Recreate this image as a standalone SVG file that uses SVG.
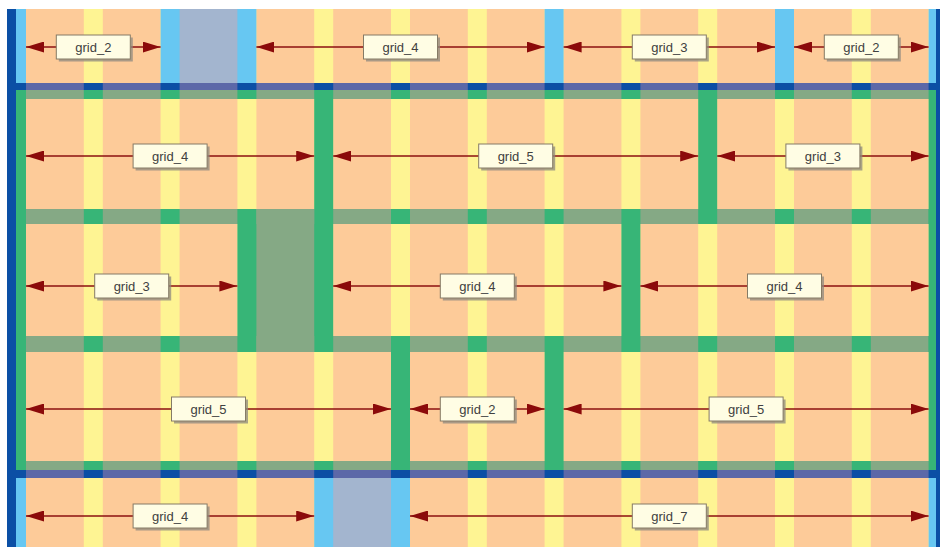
<svg xmlns="http://www.w3.org/2000/svg" xmlns:xlink="http://www.w3.org/1999/xlink" width="940" height="547" viewBox="0 0 940 547">
<style>
.peach{fill:#fdcb99}.yel{fill:#fef493}.lb{fill:#67c7f2}.bg{fill:#a3b5cf}.db{fill:#0b4fa5}.sl{fill:#5c68a8}.gr{fill:#37b577}.gg{fill:#85a985}
.arr{stroke:#8b1010;stroke-width:1.3;fill:none;marker-start:url(#ah);marker-end:url(#ah)}
.shadow{fill:#8d8a80;opacity:0.75}
.box{fill:#fffde4;stroke:#857b66;stroke-width:1}
.lbl{font-family:"Liberation Sans",Arial,sans-serif;font-size:13px;fill:#404040;text-anchor:middle}
</style>
<defs>
<path id="cols" d="M26,0h57.8v1h-57.8z M102.8,0h57.8v1h-57.8z M179.6,0h57.8v1h-57.8z M256.4,0h57.8v1h-57.8z M333.2,0h57.8v1h-57.8z M410,0h57.8v1h-57.8z M486.8,0h57.8v1h-57.8z M563.6,0h57.8v1h-57.8z M640.4,0h57.8v1h-57.8z M717.2,0h57.8v1h-57.8z M794,0h57.8v1h-57.8z M870.8,0h57.8v1h-57.8z"/>
<marker id="ah" markerUnits="userSpaceOnUse" markerWidth="18" markerHeight="11" refX="18" refY="5.5" orient="auto-start-reverse">
<path d="M0,0 L18,5.5 L0,11 z" fill="#8b0a0a"/>
</marker>
</defs>
<rect width="940" height="547" fill="#ffffff"/>
<g id="background">
<rect class="db" x="7" y="9" width="933" height="538"/>
<rect class="yel" x="16" y="9" width="920" height="538"/>
<use href="#cols" class="peach" transform="translate(0,9) scale(1,538)"/>
<!-- bands -->
<rect class="db" x="16" y="83" width="920" height="7"/>
<use href="#cols" class="sl" transform="translate(0,83) scale(1,7)"/>
<rect class="gr" x="16" y="90" width="920" height="9"/>
<use href="#cols" class="gg" transform="translate(0,90) scale(1,9)"/>
<rect class="gr" x="16" y="209" width="920" height="15"/>
<use href="#cols" class="gg" transform="translate(0,209) scale(1,15)"/>
<rect class="gr" x="16" y="336" width="920" height="16"/>
<use href="#cols" class="gg" transform="translate(0,336) scale(1,16)"/>
<rect class="gr" x="16" y="461" width="920" height="9"/>
<use href="#cols" class="gg" transform="translate(0,461) scale(1,9)"/>
<rect class="db" x="16" y="470" width="920" height="8"/>
<use href="#cols" class="sl" transform="translate(0,470) scale(1,8)"/>
<!-- margins -->
<rect class="lb" x="16" y="9" width="10" height="74"/>
<rect class="lb" x="928.6" y="9" width="7.4" height="74"/>
<rect class="gr" x="16" y="99" width="10" height="362"/>
<rect class="gr" x="928.6" y="99" width="7.4" height="362"/>
<rect class="lb" x="16" y="478" width="10" height="69"/>
<rect class="lb" x="928.6" y="478" width="7.4" height="69"/>
<!-- row 1 gaps -->
<rect class="lb" x="160.6" y="9" width="95.8" height="74"/>
<rect class="bg" x="179.6" y="9" width="57.8" height="74"/>
<rect class="lb" x="544.6" y="9" width="19" height="74"/>
<rect class="lb" x="775" y="9" width="19" height="74"/>
<!-- row A gaps -->
<rect class="gr" x="314.2" y="99" width="19" height="110"/>
<rect class="gr" x="698.2" y="99" width="19" height="110"/>
<!-- row B gaps -->
<rect class="gr" x="237.4" y="224" width="95.8" height="112"/>
<rect class="gg" x="256.4" y="209" width="57.8" height="143"/>
<rect class="gr" x="621.4" y="224" width="19" height="112"/>
<!-- row C gaps -->
<rect class="gr" x="391" y="352" width="19" height="109"/>
<rect class="gr" x="544.6" y="352" width="19" height="109"/>
<!-- bottom row gaps -->
<rect class="lb" x="314.2" y="478" width="95.8" height="69"/>
<rect class="bg" x="333.2" y="478" width="57.8" height="69"/>
</g>
<g id="connectors">
<line class="arr" x1="26" y1="47" x2="160.6" y2="47"/>
<line class="arr" x1="256.4" y1="47" x2="544.6" y2="47"/>
<line class="arr" x1="563.6" y1="47" x2="775" y2="47"/>
<line class="arr" x1="794" y1="47" x2="928.6" y2="47"/>
<line class="arr" x1="26" y1="156" x2="314.2" y2="156"/>
<line class="arr" x1="333.2" y1="156" x2="698.2" y2="156"/>
<line class="arr" x1="717.2" y1="156" x2="928.6" y2="156"/>
<line class="arr" x1="26" y1="286" x2="237.4" y2="286"/>
<line class="arr" x1="333.2" y1="286" x2="621.4" y2="286"/>
<line class="arr" x1="640.4" y1="286" x2="928.6" y2="286"/>
<line class="arr" x1="26" y1="409" x2="391" y2="409"/>
<line class="arr" x1="410" y1="409" x2="544.6" y2="409"/>
<line class="arr" x1="563.6" y1="409" x2="928.6" y2="409"/>
<line class="arr" x1="26" y1="516" x2="314.2" y2="516"/>
<line class="arr" x1="410" y1="516" x2="928.6" y2="516"/>
</g>
<g id="r1a"><rect class="shadow" x="58.8" y="37.5" width="74" height="24"/><rect class="box" x="56.3" y="35" width="74" height="24"/><text class="lbl" x="93.3" y="51.5">grid_2</text></g>
<g id="r1b"><rect class="shadow" x="366" y="37.5" width="74" height="24"/><rect class="box" x="363.5" y="35" width="74" height="24"/><text class="lbl" x="400.5" y="51.5">grid_4</text></g>
<g id="r1c"><rect class="shadow" x="634.8" y="37.5" width="74" height="24"/><rect class="box" x="632.3" y="35" width="74" height="24"/><text class="lbl" x="669.3" y="51.5">grid_3</text></g>
<g id="r1d"><rect class="shadow" x="826.8" y="37.5" width="74" height="24"/><rect class="box" x="824.3" y="35" width="74" height="24"/><text class="lbl" x="861.3" y="51.5">grid_2</text></g>
<g id="r2a"><rect class="shadow" x="135.6" y="146.5" width="74" height="24"/><rect class="box" x="133.1" y="144" width="74" height="24"/><text class="lbl" x="170.1" y="160.5">grid_4</text></g>
<g id="r2b"><rect class="shadow" x="481.2" y="146.5" width="74" height="24"/><rect class="box" x="478.7" y="144" width="74" height="24"/><text class="lbl" x="515.7" y="160.5">grid_5</text></g>
<g id="r2c"><rect class="shadow" x="788.4" y="146.5" width="74" height="24"/><rect class="box" x="785.9" y="144" width="74" height="24"/><text class="lbl" x="822.9" y="160.5">grid_3</text></g>
<g id="r3a"><rect class="shadow" x="97.2" y="276.5" width="74" height="24"/><rect class="box" x="94.7" y="274" width="74" height="24"/><text class="lbl" x="131.7" y="290.5">grid_3</text></g>
<g id="r3b"><rect class="shadow" x="442.8" y="276.5" width="74" height="24"/><rect class="box" x="440.3" y="274" width="74" height="24"/><text class="lbl" x="477.3" y="290.5">grid_4</text></g>
<g id="r3c"><rect class="shadow" x="750" y="276.5" width="74" height="24"/><rect class="box" x="747.5" y="274" width="74" height="24"/><text class="lbl" x="784.5" y="290.5">grid_4</text></g>
<g id="r4a"><rect class="shadow" x="174" y="399.5" width="74" height="24"/><rect class="box" x="171.5" y="397" width="74" height="24"/><text class="lbl" x="208.5" y="413.5">grid_5</text></g>
<g id="r4b"><rect class="shadow" x="442.8" y="399.5" width="74" height="24"/><rect class="box" x="440.3" y="397" width="74" height="24"/><text class="lbl" x="477.3" y="413.5">grid_2</text></g>
<g id="r4c"><rect class="shadow" x="711.6" y="399.5" width="74" height="24"/><rect class="box" x="709.1" y="397" width="74" height="24"/><text class="lbl" x="746.1" y="413.5">grid_5</text></g>
<g id="r5a"><rect class="shadow" x="135.6" y="506.5" width="74" height="24"/><rect class="box" x="133.1" y="504" width="74" height="24"/><text class="lbl" x="170.1" y="520.5">grid_4</text></g>
<g id="r5b"><rect class="shadow" x="634.8" y="506.5" width="74" height="24"/><rect class="box" x="632.3" y="504" width="74" height="24"/><text class="lbl" x="669.3" y="520.5">grid_7</text></g>
</svg>
